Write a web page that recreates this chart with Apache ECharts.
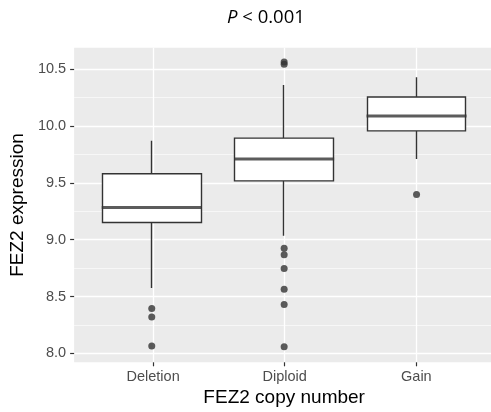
<!DOCTYPE html>
<html>
<head>
<meta charset="utf-8">
<script src="https://cdn.jsdelivr.net/npm/echarts@6/dist/echarts.min.js"></script>
<style>html,body{margin:0;padding:0;background:#fff;}#c{width:491px;height:412px;}</style>
</head>
<body>
<div id="c"></div>
<script>
// ---- data ----
var categories = ['Deletion', 'Diploid', 'Gain'];
var q1 = [9.150, 9.517, 9.957];
var median = [9.282, 9.710, 10.089];
var q3 = [9.580, 9.893, 10.256];
var whiskerLow = [8.572, 9.033, 9.710];
var whiskerHigh = [9.871, 10.362, 10.430];
var outliersDeletion = [8.393, 8.317, 8.062];
var outliersDiploid = [10.565, 10.545, 8.924, 8.865, 8.745, 8.563, 8.428, 8.055];
var outliersGain = [9.396];
var yTicks = [8.0, 8.5, 9.0, 9.5, 10.0, 10.5];
var yMinor = [8.25, 8.75, 9.25, 9.75, 10.25];
var xTicks = [1, 2, 3];

var yMin = 7.921, yMax = 10.690;

var boxData = categories.map(function (c, i) { return [q1[i], q3[i], whiskerLow[i], whiskerHigh[i]]; });
var medData = categories.map(function (c, i) { return [i, median[i]]; });
var outData = [];
[outliersDeletion, outliersDiploid, outliersGain].forEach(function (arr, i) {
  arr.forEach(function (v) { outData.push([i, v]); });
});

var chart = echarts.init(document.getElementById('c'), null, {renderer: 'canvas'});
var labelFont = 'Liberation Sans';
chart.setOption({
  animation: false,
  title: {
    text: '{i|P} < 0.001',
    left: 227, top: 8, padding: 0,
    textStyle: {
      fontFamily: 'Open Sans', fontSize: 18.5, fontWeight: 'normal', color: '#000',
      rich: { i: { fontFamily: 'Open Sans', fontSize: 18.5, fontStyle: 'italic', color: '#000' } }
    }
  },
  grid: [
    { left: 72, right: 0, top: 47.7, bottom: 49.7, show: true, backgroundColor: '#EBEBEB', borderWidth: 0 },
    { left: 85.55, width: 397.2, top: 47.7, bottom: 49.7, show: false }
  ],
  xAxis: [
    {
      type: 'value', gridIndex: 0, min: 0.4, max: 3.567,
      axisLine: { show: false },
      axisTick: { show: true, length: 4, customValues: xTicks, lineStyle: { color: '#333333', width: 1.2 } },
      axisLabel: {
        customValues: xTicks, margin: 7, fontFamily: labelFont, fontSize: 14.5, color: '#4D4D4D',
        formatter: function (v) { return categories[Math.round(v) - 1]; }
      },
      splitLine: { show: true, lineStyle: { color: '#FFFFFF', width: 1.3 } }
    },
    {
      type: 'category', gridIndex: 1, data: categories,
      axisLine: { show: false }, axisTick: { show: false }, axisLabel: { show: false }, splitLine: { show: false },
      name: 'FEZ2 copy number', nameLocation: 'middle', nameGap: 26,
      nameTextStyle: { fontFamily: labelFont, fontSize: 19, color: '#000' }
    }
  ],
  yAxis: [
    {
      type: 'value', gridIndex: 0, min: yMin, max: yMax,
      axisLine: { show: false },
      axisTick: { show: true, length: 4, customValues: yTicks, lineStyle: { color: '#333333', width: 1.2 } },
      axisLabel: {
        customValues: yTicks, margin: 8, fontFamily: labelFont, fontSize: 14.5, color: '#4D4D4D',
        formatter: function (v) { return v.toFixed(1); }
      },
      splitLine: { show: true, lineStyle: { color: '#FFFFFF', width: 1.3 } },
      name: 'FEZ2 expression', nameLocation: 'middle', nameRotate: 90, nameGap: 44,
      nameTextStyle: { fontFamily: labelFont, fontSize: 19, color: '#000' }
    },
    {
      type: 'value', gridIndex: 0, min: yMin, max: yMax,
      axisLine: { show: false },
      axisTick: { show: false, customValues: yMinor },
      axisLabel: { show: false, customValues: yMinor },
      splitLine: { show: true, lineStyle: { color: '#FFFFFF', width: 0.6 } }
    },
    {
      type: 'value', gridIndex: 1, min: yMin, max: yMax, show: false,
      splitLine: { show: false }
    }
  ],
  series: [
    {
      type: 'candlestick', xAxisIndex: 1, yAxisIndex: 2, data: boxData, barWidth: 99,
      itemStyle: { color: '#FFFFFF', color0: '#FFFFFF', borderColor: '#333333', borderColor0: '#333333', borderColorDoji: '#333333', borderWidth: 1.4 },
      z: 3
    },
    {
      type: 'scatter', xAxisIndex: 1, yAxisIndex: 2, data: medData,
      symbol: 'rect', symbolSize: [100, 3], itemStyle: { color: '#333333' }, z: 4
    },
    {
      type: 'scatter', xAxisIndex: 1, yAxisIndex: 2, data: outData,
      symbol: 'circle', symbolSize: 7, itemStyle: { color: '#333333' }, z: 5
    }
  ]
});
</script>
</body>
</html>
